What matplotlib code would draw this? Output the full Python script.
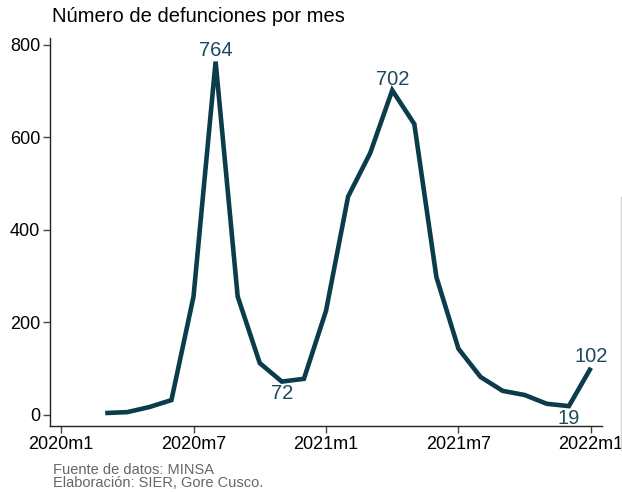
import matplotlib
matplotlib.use("Agg")
import matplotlib.pyplot as plt
from matplotlib.lines import Line2D

plt.rcParams['font.family'] = ['Liberation Sans', 'DejaVu Sans']

# Data: monthly deaths, month index 0 = 2020m1
months = list(range(2, 25))
deaths = [4, 6, 17, 32, 256, 764, 256, 112, 72, 78, 225, 472, 566, 702,
          629, 298, 143, 82, 52, 43, 24, 19, 102]
tick_pos = [0, 6, 12, 18, 24]
tick_labels = ['2020m1', '2020m7', '2021m1', '2021m7', '2022m1']
y_ticks = [0, 200, 400, 600, 800]
# labelled points: (month index, value, position)
labels = [(7, 764, 'above'), (10, 72, 'below'), (15, 702, 'above'),
          (23, 19, 'below'), (24, 102, 'above')]

W, H = 622, 493
fig = plt.figure(figsize=(W / 100, H / 100), dpi=100)
ax = fig.add_axes([50 / W, (H - 426) / H, (602 - 50) / W, (426 - 38) / H])

line_color = '#0b3c4b'
label_color = '#1b4a5c'
ax.plot(months, deaths, color=line_color, lw=3.3, solid_joinstyle='miter',
        solid_capstyle='butt')

for m, v, pos in labels:
    if pos == 'above':
        ax.annotate(str(v), (m, v), xytext=(0, 1), textcoords='offset points',
                    ha='center', va='bottom', fontsize=14.5, color=label_color)
    else:
        ax.annotate(str(v), (m, v), xytext=(0, -2), textcoords='offset points',
                    ha='center', va='top', fontsize=14.5, color=label_color)

ax.set_xlim(-0.5, 24.5)
ax.set_ylim(-24, 815)
ax.set_xticks(tick_pos)
ax.set_xticklabels(tick_labels)
ax.set_yticks(y_ticks)
for s in ['top', 'right']:
    ax.spines[s].set_visible(False)
for s in ['left', 'bottom']:
    ax.spines[s].set_color('#222222')
    ax.spines[s].set_linewidth(1.0)
ax.tick_params(axis='both', length=5, width=1, color='#444444',
               labelsize=13, labelcolor='black', pad=2)

fig.text(52 / W, 1 - 17 / H, 'Número de defunciones por mes', fontsize=14.5,
         ha='left', va='center', color='black')
fig.text(53 / W, 1 - 470 / H, 'Fuente de datos: MINSA', fontsize=10.5,
         ha='left', va='center', color='#666666')
fig.text(53 / W, 1 - 483 / H, 'Elaboración: SIER, Gore Cusco.', fontsize=10.5,
         ha='left', va='center', color='#666666')

fig.add_artist(Line2D([621 / W, 621 / W], [1 - 197 / H, 1 - 450 / H],
                      transform=fig.transFigure, color='#d6d6d6', lw=1))

fig.savefig('out.png', dpi=100)
